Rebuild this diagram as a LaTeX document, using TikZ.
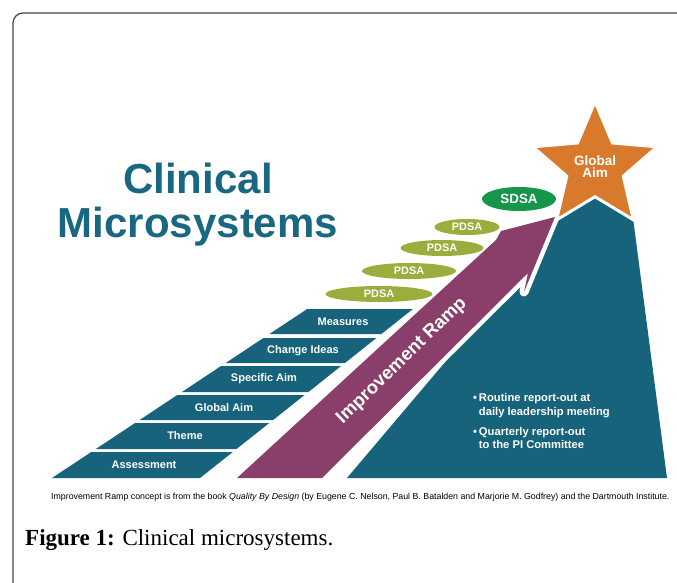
\documentclass[tikz,border=0pt]{standalone}
\usepackage{fontspec}
\setmainfont{Liberation Serif}
\setsansfont{Liberation Sans}
\usetikzlibrary{shapes.geometric}

\definecolor{rampteal}{RGB}{23,99,124}
\definecolor{titleteal}{RGB}{26,103,129}
\definecolor{ramppurple}{RGB}{138,62,106}
\definecolor{pdsagreen}{RGB}{155,174,61}
\definecolor{sdsagreen}{RGB}{22,150,74}
\definecolor{aimorange}{RGB}{216,121,44}
\definecolor{framegray}{RGB}{70,70,70}

\begin{document}
\begin{tikzpicture}[x=1pt, y=-1pt,
  titlenode/.style={font=\sffamily\bfseries\fontsize{42}{42}\selectfont, text=titleteal, inner sep=0pt},
  stepnode/.style={font=\sffamily\bfseries\fontsize{11}{11}\selectfont, text=white, inner sep=0pt},
  ovalnode/.style={ellipse, fill=pdsagreen, minimum height=16pt, inner sep=0pt, text=white, font=\sffamily\bfseries\fontsize{10.9}{11}\selectfont},
  sdsanode/.style={ellipse, fill=sdsagreen, minimum width=74pt, minimum height=24pt, inner sep=0pt, text=white, font=\sffamily\bfseries\fontsize{13.4}{13}\selectfont},
  starnode/.style={star, star points=5, star point ratio=2.2, minimum size=119pt, fill=aimorange, draw=white, line width=3pt, inner sep=0pt, align=center, text=white, font=\sffamily\bfseries\fontsize{13.5}{12}\selectfont},
  notenode/.style={align=left, inner sep=0pt, text=white, font=\sffamily\bfseries\fontsize{11.2}{13.4}\selectfont},
]
\useasboundingbox (0,0) rectangle (677,582);
\clip (0,0) rectangle (677,582);

% frame
\draw[framegray, line width=1.2pt, rounded corners=10pt] (13,13) rectangle (700,610);

% title
\node[titlenode, anchor=base] (title1) at (198,193) {Clinical};
\node[titlenode, anchor=base] (title2) at (198,237) {Microsystems};

% steps
\fill[rampteal] (52,478) -- (91.3,452) -- (232.8,452) -- (200,478) -- cycle;
\fill[rampteal] (95.8,449) -- (135.1,423) -- (269.3,423) -- (236.5,449) -- cycle;
\fill[rampteal] (139.6,420) -- (177.3,395) -- (304.6,395) -- (273.1,420) -- cycle;
\fill[rampteal] (181.9,392) -- (221.1,366) -- (341.1,366) -- (308.4,392) -- cycle;
\fill[rampteal] (225.7,363) -- (263.4,338) -- (376.4,338) -- (344.9,363) -- cycle;
\fill[rampteal] (269.4,334) -- (307.2,309) -- (412.9,309) -- (381.4,334) -- cycle;

\node[stepnode] (assess) at (144,465) {Assessment};
\node[stepnode] (theme) at (185,436) {Theme};
\node[stepnode] (goal) at (224,407.5) {Global Aim};
\node[stepnode] (specaim) at (264,379) {Specific Aim};
\node[stepnode] (change) at (303,350.5) {Change Ideas};
\node[stepnode] (measures) at (343,321.5) {Measures};

% mountain
\fill[rampteal] (347,478) -- (540,250) -- (548,224) -- (557,219) -- (595,195)
  -- (633,218) -- (667,478) -- cycle;

% improvement ramp
\path[draw=white, line width=9pt, line join=round]
  (237,478) -- (322,478) -- (528,273) -- (524,292) -- (555,217) -- (501,231) -- (496,240) -- cycle;
\fill[ramppurple]
  (237,478) -- (322,478) -- (528,273) -- (524,292) -- (555,217) -- (501,231) -- (496,240) -- cycle;
\node[rotate=44, inner sep=0pt, text=white, font=\sffamily\bfseries\fontsize{18.5}{18}\selectfont]
  (ramp) at (402,361) {Improvement Ramp};

% global aim
\node[starnode] (star) at (595,167) {Global\\Aim};

% cycles
\node[ovalnode, minimum width=107pt] (pdsa1) at (379,294) {PDSA};
\node[ovalnode, minimum width=94pt] (pdsa2) at (409,271) {PDSA};
\node[ovalnode, minimum width=83pt] (pdsa3) at (442,248) {PDSA};
\node[ovalnode, minimum width=65pt] (pdsa4) at (467,227) {PDSA};
\node[sdsanode] (sdsa) at (519,199) {SDSA};

% report-out notes
\node[notenode, anchor=west] (routine) at (473,405.5) {\textbullet\,Routine report-out at\\\phantom{\textbullet\,}daily leadership meeting};
\node[notenode, anchor=west] (quarter) at (473,438) {\textbullet\,Quarterly report-out\\\phantom{\textbullet\,}to the PI Committee};

% source and caption
\node[inner sep=0pt, font=\sffamily\fontsize{8.8}{8.8}\selectfont, anchor=base west] (source) at (51,499)
  {Improvement Ramp concept is from the book \textit{Quality By Design} (by Eugene C. Nelson, Paul B. Batalden and Marjorie M. Godfrey) and the Dartmouth Institute.};
\node[inner sep=0pt, font=\fontsize{23}{23}\selectfont, anchor=base west] (caption) at (25,545)
  {\textbf{Figure 1:} Clinical microsystems.};

\end{tikzpicture}
\end{document}
